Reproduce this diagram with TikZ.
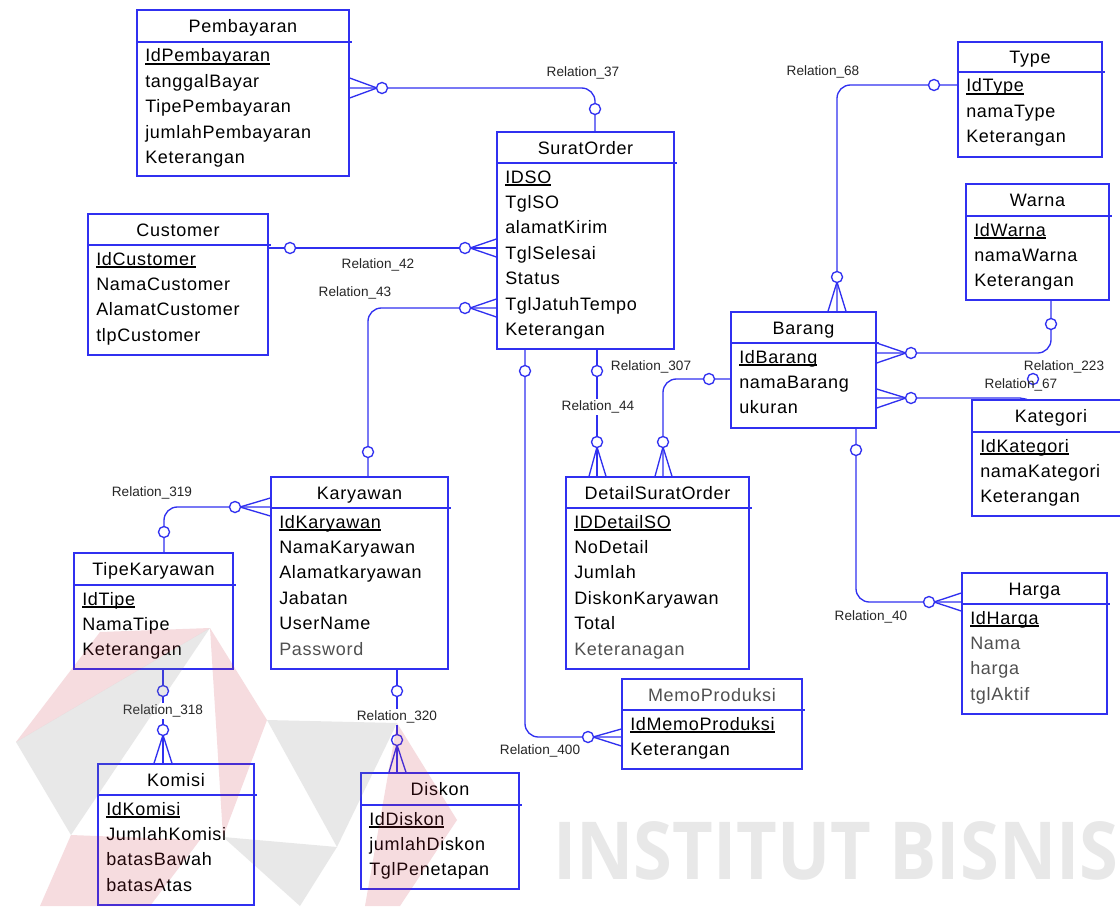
\documentclass[tikz,border=0pt]{standalone}
\usepackage{fontspec}
\setmainfont{Liberation Sans}
\newfontfamily\attrfont{Liberation Sans}[LetterSpace=4]
\newfontfamily\relfont{Liberation Sans}
\newfontfamily\wmfont{Open Sans}
\usetikzlibrary{fit}

\definecolor{erblue}{RGB}{48,48,240}
\definecolor{attrgray}{RGB}{80,80,80}
\definecolor{wmgray}{RGB}{232,232,232}
\definecolor{logored}{RGB}{200,40,60}
\definecolor{logogray}{RGB}{120,120,120}

\newcommand\erfont{\attrfont\fontsize{13.5}{16}\selectfont}
\newcommand\rlfont{\relfont\fontsize{10.2}{12}\selectfont}
% primary key: underline just under the baseline
\newcommand\pk[1]{\setbox0\hbox{#1}\rlap{\rule[-2pt]{\wd0}{1.1pt}}\box0}
\newcommand\gr[1]{\textcolor{attrgray}{#1}}

% entity box: name, x1, y1, x2, y2, header line y, title, attributes
\newcommand\entity[8]{%
  \node[ebox, fit={(#2,#3) (#4,#5)}] (#1) {};
  \draw[eline] (#2,#6) -- ({#4+3},#6);
  \node[etext, anchor=base] (#1-t) at ({(#2+#4)/2},{(#3+#6)/2+6.5}) {#7};
  \foreach \a [count=\n] in {#8}{
    \node[etext, anchor=base west] (#1-\n) at ({#2+8},{#6+20+(\n-1)*25.4}) {\a};
  }%
}

\tikzset{
  ebox/.style={draw=erblue, line width=1pt, inner sep=0pt, rectangle},
  eline/.style={draw=erblue, line width=1pt},
  etext/.style={font=\erfont, inner sep=0pt, text=black},
  conn/.style={draw=erblue, line width=1pt, rounded corners=10pt},
  prong/.style={draw=erblue, line width=1pt},
  mk/.style={circle, draw=erblue, fill=white, line width=1pt, minimum size=8.3pt, inner sep=0pt},
  rlab/.style={font=\rlfont, inner sep=1pt, text=black!85},
  rlabw/.style={rlab, fill=white, inner sep=1.5pt},
}

\begin{document}
\begin{tikzpicture}[x=0.75pt, y=-0.75pt]
\useasboundingbox (0,0) rectangle (1120,906);
\fill[white] (0,0) rectangle (1120,906);

% faint institute lettering
\node[anchor=base west, inner sep=0pt, text=wmgray, font=\wmfont\bfseries\fontsize{60}{66}\selectfont] (wm) at (553,879) {\scalebox{0.88}[1]{INSTITUT BISNIS}};

% ---------- entities ----------
\entity{pembayaran}{137}{10}{349}{176}{42}{Pembayaran}{\pk{IdPembayaran}, tanggalBayar, TipePembayaran, jumlahPembayaran, Keterangan}
\entity{suratorder}{497}{132}{674}{349}{163}{SuratOrder}{\pk{IDSO}, TglSO, alamatKirim, TglSelesai, Status, TglJatuhTempo, Keterangan}
\entity{customer}{88}{214}{268}{355}{245}{Customer}{\pk{IdCustomer}, NamaCustomer, AlamatCustomer, tlpCustomer}
\entity{karyawan}{271}{477}{448}{669}{508}{Karyawan}{\pk{IdKaryawan}, NamaKaryawan, Alamatkaryawan, Jabatan, UserName, \gr{Password}}
\entity{tipekaryawan}{74}{553}{233}{669}{585}{TipeKaryawan}{\pk{IdTipe}, NamaTipe, Keterangan}
\entity{komisi}{98}{764}{254}{905}{795}{Komisi}{\pk{IdKomisi}, JumlahKomisi, batasBawah, batasAtas}
\entity{diskon}{361}{773}{519}{889}{805}{Diskon}{\pk{IdDiskon}, jumlahDiskon, TglPenetapan}
\entity{detailso}{566}{477}{749}{669}{508}{DetailSuratOrder}{\pk{IDDetailSO}, NoDetail, Jumlah, DiskonKaryawan, Total, \gr{Keteranagan}}
\entity{memo}{622}{679}{802}{769}{710}{\gr{MemoProduksi}}{\pk{IdMemoProduksi}, Keterangan}
\entity{type}{958}{42}{1102}{157}{72}{Type}{\pk{IdType}, namaType, Keterangan}
\entity{warna}{966}{184}{1109}{300}{216}{Warna}{\pk{IdWarna}, namaWarna, Keterangan}
\entity{barang}{731}{312}{876}{428}{343}{Barang}{\pk{IdBarang}, namaBarang, ukuran}
\entity{kategori}{972}{400}{1130}{516}{432}{Kategori}{\pk{IdKategori}, namaKategori, Keterangan}
\entity{harga}{962}{573}{1107}{714}{604}{Harga}{\pk{IdHarga}, \gr{Nama}, \gr{harga}, \gr{tglAktif}}

% ---------- relationships ----------
% Relation_37
\draw[conn] (pembayaran.east |- 0,88) -- (595,88) -- (595,0 |- suratorder.north);
\draw[prong] (377,88) -- (pembayaran.east |- 0,78) (377,88) -- (pembayaran.east |- 0,98);
% Relation_42
\draw[conn] (customer.east |- 0,248) -- (suratorder.west |- 0,248);
\draw[prong] (470,248) -- (suratorder.west |- 0,239) (470,248) -- (suratorder.west |- 0,257);
% Relation_43
\draw[conn] (suratorder.west |- 0,308) -- (368,308) -- (368,0 |- karyawan.north);
\draw[prong] (470,308) -- (suratorder.west |- 0,299) (470,308) -- (suratorder.west |- 0,317);
% Relation_319
\draw[conn] (karyawan.west |- 0,507) -- (164,507) -- (164,0 |- tipekaryawan.north);
\draw[prong] (240,507) -- (karyawan.west |- 0,498) (240,507) -- (karyawan.west |- 0,516);
% Relation_318
\draw[conn] (163,0 |- tipekaryawan.south) -- (163,0 |- komisi.north);
\draw[prong] (163,735) -- (154,0 |- komisi.north) (163,735) -- (172,0 |- komisi.north);
% Relation_320
\draw[conn] (397,0 |- karyawan.south) -- (397,0 |- diskon.north);
\draw[prong] (397,745) -- (389,0 |- diskon.north) (397,745) -- (406,0 |- diskon.north);
% Relation_44
\draw[conn] (597,0 |- suratorder.south) -- (597,0 |- detailso.north);
\draw[prong] (597,447) -- (589,0 |- detailso.north) (597,447) -- (606,0 |- detailso.north);
% Relation_307
\draw[conn] (barang.west |- 0,379) -- (663,379) -- (663,0 |- detailso.north);
\draw[prong] (663,447) -- (655,0 |- detailso.north) (663,447) -- (672,0 |- detailso.north);
% Relation_400
\draw[conn] (525,0 |- suratorder.south) -- (525,737) -- (memo.west |- 0,737);
\draw[prong] (593,737) -- (memo.west |- 0,729) (593,737) -- (memo.west |- 0,746);
% Relation_68
\draw[conn] (type.west |- 0,85) -- (837,85) -- (837,0 |- barang.north);
\draw[prong] (837,282) -- (828,0 |- barang.north) (837,282) -- (846,0 |- barang.north);
% Relation_223
\draw[conn] (barang.east |- 0,353) -- (1051,353) -- (1051,0 |- warna.south);
\draw[prong] (906,353) -- (barang.east |- 0,343) (906,353) -- (barang.east |- 0,363);
% Relation_67
\draw[conn, rounded corners=0pt] (barang.east |- 0,398) -- (1020,398) -- (1027,0 |- kategori.north);
\draw[prong] (906,398) -- (barang.east |- 0,389) (906,398) -- (barang.east |- 0,408);
% Relation_40
\draw[conn] (856,0 |- barang.south) -- (856,602) -- (harga.west |- 0,602);
\draw[prong] (934,602) -- (harga.west |- 0,593) (934,602) -- (harga.west |- 0,611);

% optional-end circles
\node[mk] (c37a) at (382,88) {};
\node[mk] (c37b) at (595,109) {};
\node[mk] (c42a) at (290,248) {};
\node[mk] (c42b) at (465,248) {};
\node[mk] (c43a) at (465,308) {};
\node[mk] (c43b) at (368,452) {};
\node[mk] (c319a) at (235,507) {};
\node[mk] (c319b) at (164,532) {};
\node[mk] (c318a) at (163,691) {};
\node[mk] (c318b) at (163,730) {};
\node[mk] (c320a) at (397,691) {};
\node[mk] (c320b) at (397,740) {};
\node[mk] (c44a) at (597,371) {};
\node[mk] (c44b) at (597,442) {};
\node[mk] (c307a) at (709,379) {};
\node[mk] (c307b) at (663,442) {};
\node[mk] (c400a) at (525,371) {};
\node[mk] (c400b) at (588,737) {};
\node[mk] (c68a) at (934,85) {};
\node[mk] (c68b) at (837,277) {};
\node[mk] (c223a) at (911,353) {};
\node[mk] (c223b) at (1051,324) {};
\node[mk] (c67a) at (911,398) {};
\node[mk] (c67b) at (1033,379) {};
\node[mk] (c40a) at (856,450) {};
\node[mk] (c40b) at (929,602) {};

% relationship names
\node[rlab] (l37) at (583,73) {Relation\_37};
\node[rlab] (l42) at (378,265) {Relation\_42};
\node[rlab] (l43) at (355,293) {Relation\_43};
\node[rlab] (l307) at (651,367) {Relation\_307};
\node[rlabw] (l44) at (598,407) {Relation\_44};
\node[rlab] (l68) at (823,72) {Relation\_68};
\node[rlab] (l223) at (1064,367) {Relation\_223};
\node[rlab] (l67) at (1021,385) {Relation\_67};
\node[rlab] (l319) at (152,493) {Relation\_319};
\node[rlabw] (l318) at (163,711) {Relation\_318};
\node[rlabw] (l320) at (397,717) {Relation\_320};
\node[rlab] (l400) at (540,751) {Relation\_400};
\node[rlab] (l40) at (871,617) {Relation\_40};

% faint emblem laid over the lower left
\begin{scope}[fill opacity=0.16]
  \fill[logored] (16,742) -- (100,632) -- (210,628) -- cycle;
  \fill[logored] (210,628) -- (267,720) -- (223,837) -- cycle;
  \fill[logored] (397,723) -- (457,820) -- (400,906) -- (365,906) -- cycle;
  \fill[logored] (71,835) -- (200,840) -- (150,906) -- (40,906) -- cycle;
\end{scope}
\begin{scope}[fill opacity=0.17]
  \fill[logogray] (16,742) -- (210,628) -- (71,835) -- cycle;
  \fill[logogray] (267,720) -- (397,723) -- (337,847) -- cycle;
  \fill[logogray] (337,847) -- (223,837) -- (300,906) -- cycle;
\end{scope}
\end{tikzpicture}
\end{document}
